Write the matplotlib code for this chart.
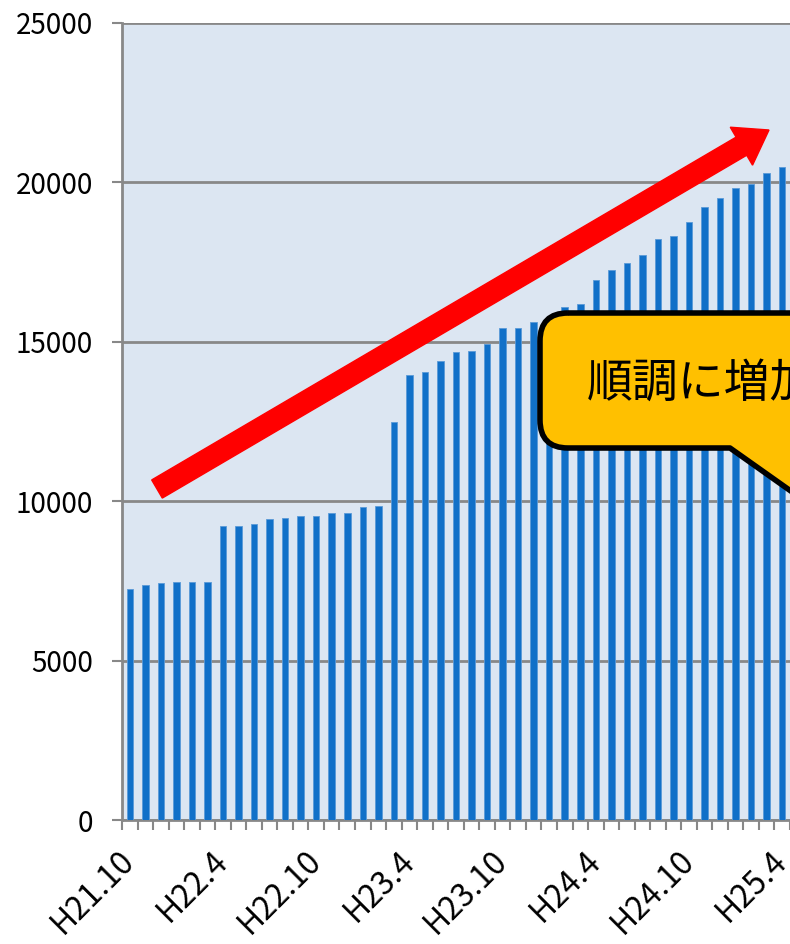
import matplotlib
matplotlib.use('Agg')
import matplotlib.pyplot as plt
from matplotlib.patches import FancyArrow, PathPatch
from matplotlib.path import Path
from matplotlib.transforms import IdentityTransform

plt.rcParams['font.family'] = ['Noto Sans CJK JP', 'DejaVu Sans']

# monthly values, H21.10 .. H25.4
values = [7240, 7360, 7420, 7450, 7450, 7450,
          9220, 9220, 9290, 9440, 9480, 9535, 9525, 9640, 9640, 9820, 9850,
          12485, 13960, 14050, 14400, 14680, 14700, 14920, 15430, 15440, 15610, 15700,
          16090, 16190, 16935, 17260, 17460, 17715, 18215, 18315, 18755, 19225,
          19510, 19820, 19965, 20290, 20480]
tick_labels = ['H21.10', 'H22.4', 'H22.10', 'H23.4', 'H23.10', 'H24.4', 'H24.10', 'H25.4']
tick_step = 6
callout_text = '順調に増加'

W, H = 790, 944
fig = plt.figure(figsize=(W / 100, H / 100), dpi=100)
ax = fig.add_axes([122 / W, 124 / H, (W - 122) / W, 797 / H])
ax.set_facecolor('#dce6f2')

x = list(range(len(values)))
ax.bar(x, values, width=0.42, color='#1170c8', edgecolor='#5a9ad8', linewidth=0.6, zorder=3)

ax.set_ylim(0, 25000)
ax.set_yticks(range(0, 25001, 5000))
ax.set_xlim(-0.5, 42.35)
ax.yaxis.grid(True, color='#888888', linewidth=2, zorder=1)

# tick marks between bars, labels every 6 months
ax.set_xticks([i * tick_step for i in range(len(tick_labels))])
ax.set_xticklabels(tick_labels, rotation=45, ha='right', va='center', rotation_mode='anchor')
ax.set_xticks([i - 0.5 for i in range(len(values) + 1)], minor=True)
ax.tick_params(axis='x', which='major', length=0, pad=26, labelsize=23)
ax.tick_params(axis='x', which='minor', length=7, width=1.5, color='#888888')
ax.tick_params(axis='y', length=7, width=1.5, color='#888888', pad=14, labelsize=20)

for side in ['top', 'right']:
    ax.spines[side].set_visible(False)
for side in ['left', 'bottom']:
    ax.spines[side].set_color('#888888')
    ax.spines[side].set_linewidth(2)

# red trend arrow (display pixels, origin bottom-left)
x0, y0 = 157, H - 489
x1, y1 = 769, H - 130
arrow = FancyArrow(x0, y0, x1 - x0, y1 - y0, width=21, head_width=44, head_length=32,
                   length_includes_head=True, color='#ff0000', transform=IdentityTransform(), zorder=5)
fig.add_artist(arrow)

# callout box with tail, pixel coords (y down)
r = 28
L, T, R, B = 540, 313, 860, 448
pts = [(L + r, T), (R, T), (R, 540), (730, B), (L + r, B), (L, B), (L, B - r), (L, T + r), (L, T), (L + r, T)]
codes = [Path.MOVETO, Path.LINETO, Path.LINETO, Path.LINETO, Path.LINETO,
         Path.CURVE3, Path.CURVE3, Path.LINETO, Path.CURVE3, Path.CURVE3]
verts = [(px, H - py) for px, py in pts]
callout = PathPatch(Path(verts, codes), facecolor='#ffc000', edgecolor='black', linewidth=4,
                    transform=IdentityTransform(), zorder=6, joinstyle='round')
fig.add_artist(callout)
fig.text(587 / W, 1 - 383 / H, callout_text, fontsize=33, va='center', ha='left', zorder=7)

fig.savefig('out.png', dpi=100)
